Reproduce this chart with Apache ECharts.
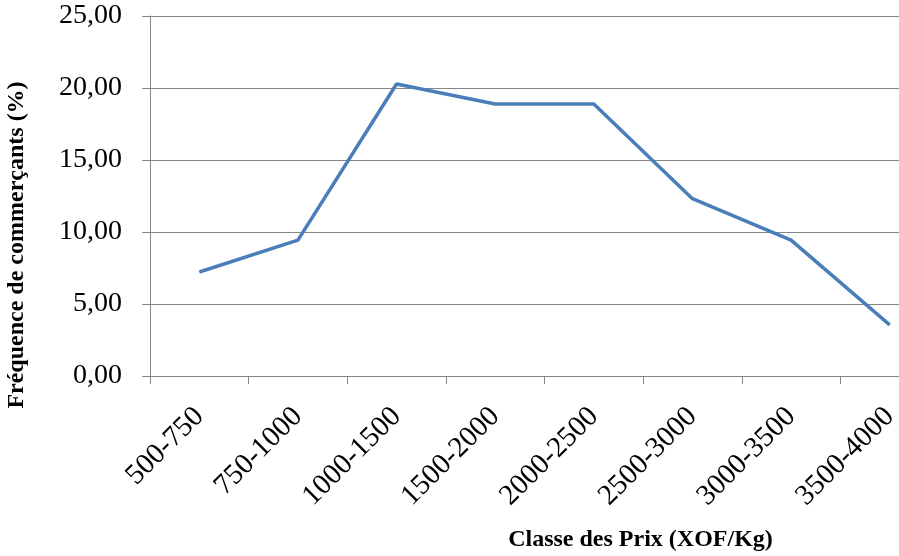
<!DOCTYPE html>
<html>
<head>
<meta charset="utf-8">
<script src="https://cdn.jsdelivr.net/npm/echarts@6/dist/echarts.min.js"></script>
<style>
    html, body { margin: 0; padding: 0; background: #fff; }
    #chart { width: 899px; height: 556px; }
</style>
</head>
<body>
<div id="chart"></div>
<script>
    // données
    const categories = ['500-750', '750-1000', '1000-1500', '1500-2000', '2000-2500', '2500-3000', '3000-3500', '3500-4000']
    const frequences = [7.22, 9.44, 20.28, 18.89, 18.89, 12.31, 9.44, 3.55]
    const yTicks = { min: 0, max: 25, interval: 5 }

    const chart = echarts.init(document.getElementById('chart'))
    const font = 'Liberation Serif, Times New Roman, serif'
    const gray = '#868686'

    const option = {
        animation: false,
        grid: {
            left: 150,
            top: 16,
            width: 789,
            bottom: 180,
            containLabel: false,
            outerBoundsMode: 'none'
        },
        xAxis: {
            type: 'category',
            data: categories,
            boundaryGap: true,
            name: 'Classe des Prix (XOF/Kg)',
            nameLocation: 'middle',
            nameGap: 152,
            nameTextStyle: {
                fontFamily: font,
                fontWeight: 'bold',
                fontSize: 24,
                color: '#000',
                padding: [0, 0, 0, 192]
            },
            axisLine: { lineStyle: { color: gray, width: 1 } },
            axisTick: { show: true, interval: 0, length: 8, lineStyle: { color: gray } },
            axisLabel: {
                interval: 0,
                rotate: 45,
                margin: 36,
                fontFamily: font,
                fontSize: 29,
                color: '#000'
            },
            splitLine: { show: false }
        },
        yAxis: {
            type: 'value',
            min: yTicks.min,
            max: yTicks.max,
            interval: yTicks.interval,
            name: 'Fréquence de commerçants (%)',
            nameLocation: 'middle',
            nameGap: 121,
            nameTextStyle: {
                fontFamily: font,
                fontWeight: 'bold',
                fontSize: 24,
                color: '#000',
                padding: [0, 98, 0, 0]
            },
            axisLine: { show: true, lineStyle: { color: gray, width: 1 } },
            axisTick: { show: true, length: 8, lineStyle: { color: gray } },
            axisLabel: {
                margin: 28,
                fontFamily: font,
                fontSize: 28,
                color: '#000',
                formatter: v => v.toFixed(2).replace('.', ',')
            },
            splitLine: { lineStyle: { color: gray, width: 1 } }
        },
        series: [
            {
                type: 'line',
                data: frequences,
                symbol: 'none',
                lineStyle: { color: '#4a7ebb', width: 3.5 },
                itemStyle: { color: '#4a7ebb' }
            }
        ]
    }
    chart.setOption(option)
</script>
</body>
</html>
